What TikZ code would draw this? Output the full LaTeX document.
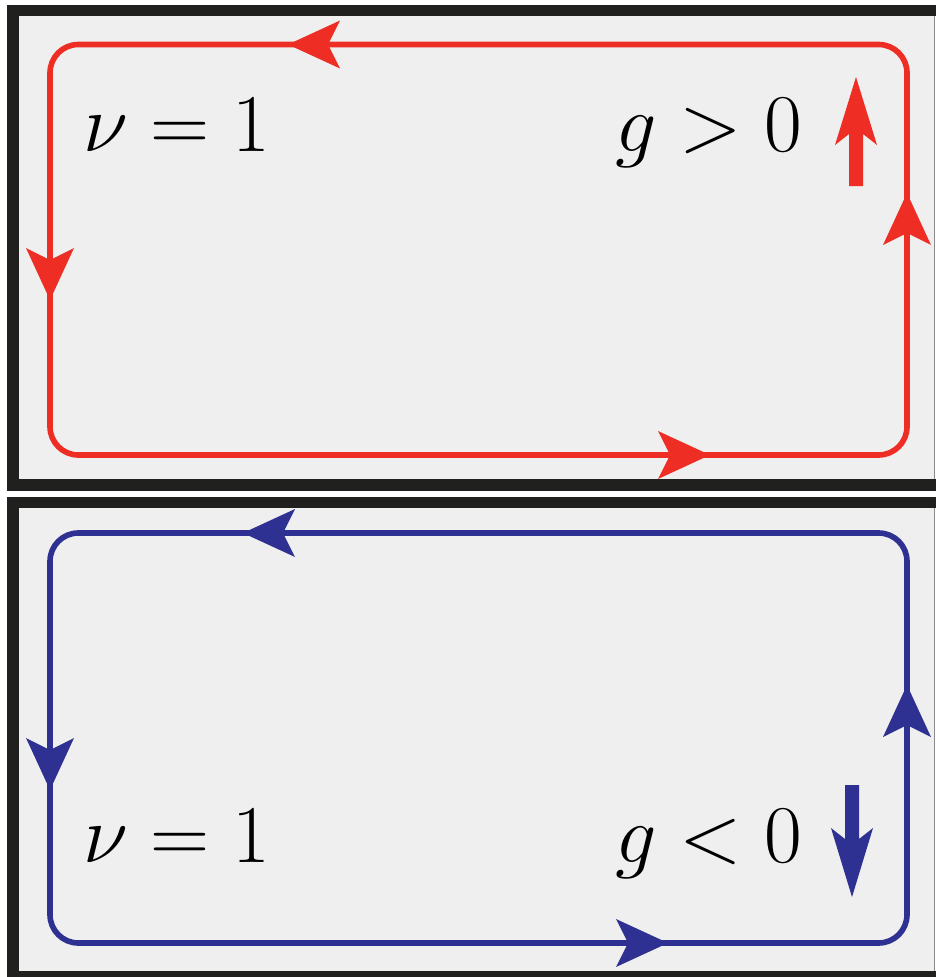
\documentclass[tikz,border=0pt]{standalone}
\usepackage{fix-cm}
\definecolor{loopred}{RGB}{238,46,36}
\definecolor{loopblue}{RGB}{46,49,146}
\definecolor{panelgray}{RGB}{239,239,239}
\definecolor{framecol}{RGB}{32,32,30}
\tikzset{
  panelbg/.style={fill=panelgray},
  framebar/.style={fill=framecol},
  edgeline/.style={draw=black!45, line width=0.6pt},
  loopline/.style={line width=4.8pt, rounded corners=0.85cm},
  loophead/.pic={\fill (0,0) -- (-52,24) -- (-40,0) -- (-52,-24) -- cycle;},
  label/.style={inner sep=0pt, anchor=base west, font=\fontsize{70}{84}\selectfont},
}
\begin{document}
\begin{tikzpicture}[x=0.03cm, y=-0.03cm]
\useasboundingbox (0,0) rectangle (936,977);
% top panel
\fill[panelbg] (19,16) rectangle (934,479);
\fill[framebar] (7,5) rectangle (936,16);
\fill[framebar] (7,5) rectangle (19,491);
\fill[framebar] (7,479) rectangle (936,491);
\draw[edgeline] (934,16) -- (934,479);
% bottom panel
\fill[panelbg] (19,508) rectangle (934,971);
\fill[framebar] (7,497) rectangle (936,508);
\fill[framebar] (7,497) rectangle (19,977);
\fill[framebar] (7,971) rectangle (936,977);
\draw[edgeline] (934,508) -- (934,971);
% red loop
\draw[loopline, draw=loopred] (50,44.5) rectangle (907,455);
\begin{scope}[loopred]
\pic[rotate=180] at (288,44.5) {loophead};
\pic[rotate=-90] at (50,300) {loophead};
\pic[rotate=90] at (907,193) {loophead};
\pic at (710,455) {loophead};
\end{scope}
% blue loop
\draw[loopline, draw=loopblue] (50,533) rectangle (907,943);
\begin{scope}[loopblue]
\pic[rotate=180] at (243,533) {loophead};
\pic[rotate=-90] at (50,790) {loophead};
\pic[rotate=90] at (907,685) {loophead};
\pic at (668,943) {loophead};
\end{scope}
% labels
\node[label] (nu1) at (83,151) {$\nu = 1$};
\node[label] (g1) at (615,151) {$g > 0$};
\node[label] (nu2) at (83,862) {$\nu = 1$};
\node[label] (g2) at (615,862) {$g < 0$};
% spin arrows
\fill[loopred] (856,77) -- (877,145) -- (863,134) -- (863,186) -- (849,186) -- (849,134) -- (835,145) -- cycle;
\fill[loopblue] (852,897) -- (873,828) -- (859,839) -- (859,785) -- (845,785) -- (845,839) -- (831,828) -- cycle;
\end{tikzpicture}
\end{document}
